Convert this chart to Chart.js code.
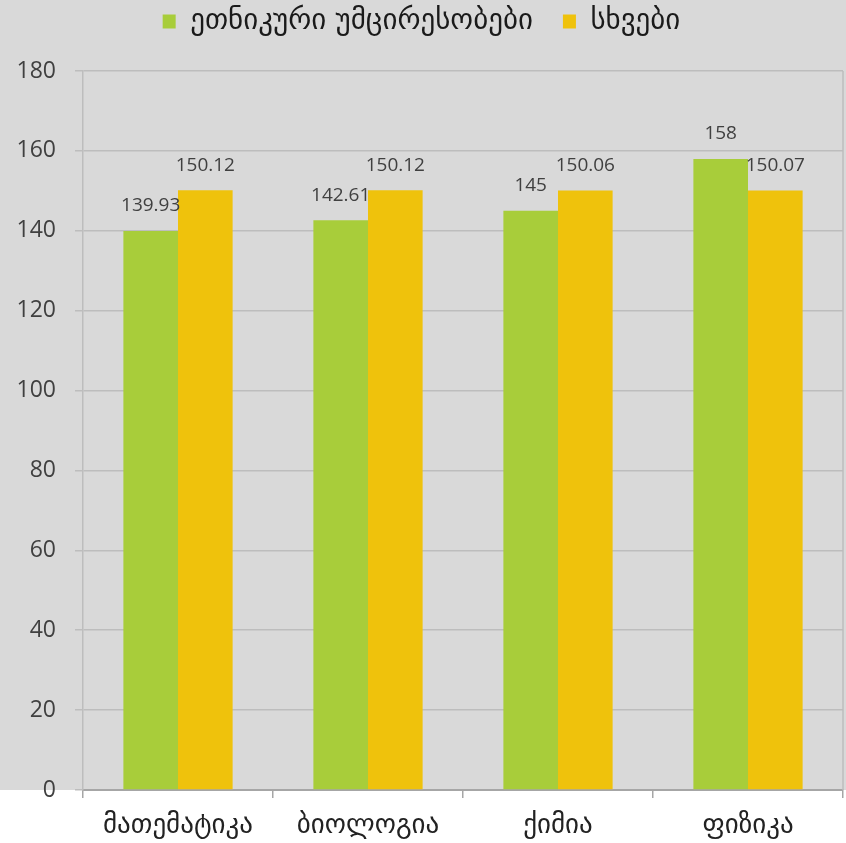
<!DOCTYPE html>
<html><head><meta charset="utf-8">
<script src="https://cdn.jsdelivr.net/npm/chart.js@4"></script>
<style>html,body{margin:0;padding:0;background:#fff}</style>
</head><body><canvas id="c" width="846" height="843"></canvas>
<script>
const categories = ['მათემატიკა','ბიოლოგია','ქიმია','ფიზიკა'];
const seriesNames = ['ეთნიკური უმცირესობები','სხვები'];
const minorityValues = [139.93, 142.61, 145, 158];
const otherValues = [150.12, 150.12, 150.06, 150.07];
const yMin = 0, yMax = 180, yStep = 20;

const FONT = "'Open Sans', 'DejaVu Sans', sans-serif";
const GEO = "'DejaVu Sans', sans-serif";
const GRID = '#bdbdbd';
const LEGEND_SHIFT = -23;

const bgPlugin = {
  id: 'bg',
  afterInit(chart) {
    const lg = chart.legend;
    if (lg) {
      const origFit = lg.fit;
      lg.fit = function() { origFit.call(this); this.height = 71; };
      const origDraw = lg.draw;
      lg.draw = function() {
        const ctx = this.ctx;
        ctx.save();
        ctx.translate(0, LEGEND_SHIFT);
        origDraw.call(this);
        ctx.restore();
      };
    }
  },
  beforeDraw(chart) {
    const {ctx, chartArea} = chart;
    ctx.save();
    ctx.fillStyle = '#ffffff';
    ctx.fillRect(0, 0, chart.width, chart.height);
    ctx.fillStyle = '#d9d9d9';
    ctx.fillRect(0, 0, chart.width, chartArea.bottom);
    ctx.restore();
  },
  beforeDatasetsDraw(chart) {
    const {ctx, chartArea} = chart;
    ctx.save();
    ctx.strokeStyle = GRID;
    ctx.lineWidth = 1.5;
    ctx.beginPath();
    ctx.moveTo(chartArea.right, chartArea.top);
    ctx.lineTo(chartArea.right, chartArea.bottom);
    ctx.stroke();
    ctx.restore();
  }
};

const labelPlugin = {
  id: 'vals',
  afterDatasetsDraw(chart) {
    const {ctx} = chart;
    ctx.save();
    ctx.font = "19px " + FONT;
    ctx.fillStyle = '#404040';
    ctx.textAlign = 'center';
    ctx.textBaseline = 'middle';
    chart.data.datasets.forEach((ds, i) => {
      const meta = chart.getDatasetMeta(i);
      meta.data.forEach((bar, j) => {
        ctx.fillText(String(ds.data[j]), bar.x, bar.y - 25);
      });
    });
    ctx.restore();
  }
};

new Chart(document.getElementById('c'), {
  type: 'bar',
  data: {
    labels: categories,
    datasets: [
      { label: seriesNames[0], data: minorityValues, backgroundColor: '#a8cd3a', borderWidth: 0 },
      { label: seriesNames[1], data: otherValues, backgroundColor: '#efc20c', borderWidth: 0 }
    ]
  },
  options: {
    responsive: false,
    animation: false,
    devicePixelRatio: 1,
    layout: { padding: { left: 0, right: 3, top: 0, bottom: 0 } },
    datasets: { bar: { categoryPercentage: 0.575, barPercentage: 1.0 } },
    plugins: {
      tooltip: { enabled: false },
      legend: {
        position: 'top',
        labels: {
          boxWidth: 13, boxHeight: 14, padding: 30,
          color: '#1a1a1a',
          font: { family: GEO, size: 29 }
        }
      }
    },
    scales: {
      x: {
        grid: { display: true, drawOnChartArea: false, drawTicks: true, tickLength: 8, color: '#a6a6a6', lineWidth: 1.5 },
        border: { display: true, color: '#a6a6a6', width: 2 },
        ticks: { color: '#222222', font: { family: GEO, size: 27 }, padding: 12 },
        afterFit(s) { s.height = 53; }
      },
      y: {
        min: yMin, max: yMax,
        grid: { color: GRID, lineWidth: 1.5, tickLength: 8 },
        border: { display: true, color: GRID, width: 1.5 },
        ticks: { stepSize: yStep, color: '#404040', font: { family: FONT, size: 23 }, padding: 19 },
        afterFit(s) { s.width = 83; }
      }
    }
  },
  plugins: [bgPlugin, labelPlugin]
});
</script>
</body></html>
